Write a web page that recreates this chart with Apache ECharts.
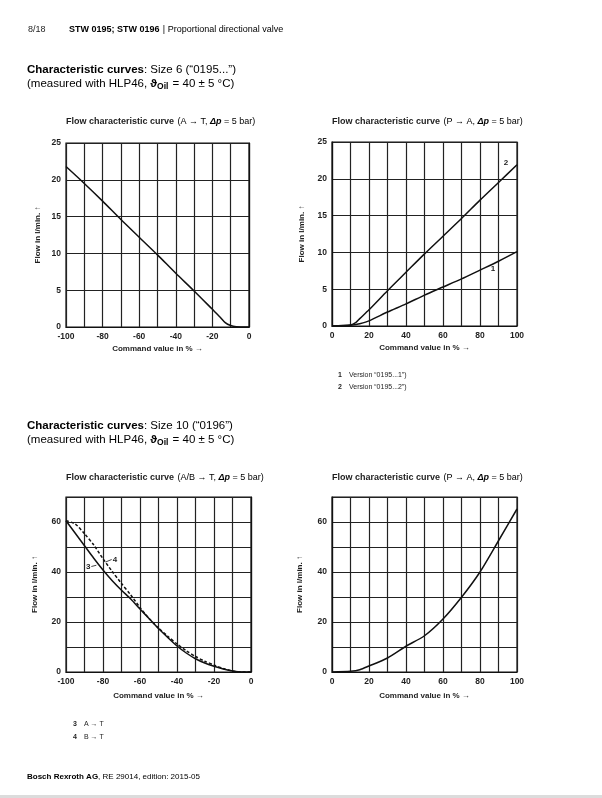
<!DOCTYPE html>
<html><head><meta charset="utf-8">
<script src="https://cdn.jsdelivr.net/npm/echarts@6/dist/echarts.min.js"></script>
<style>html,body{margin:0;padding:0;background:#fff}#c{width:602px;height:798px}</style>
</head><body><div id="c"></div>
<script>
// ---- data ----
const cmdAT6 = [-100,-90,-80,-70,-60,-50,-40,-30,-20,-16,-13,-10,-7,0];
const flowAT6 = [21.8,19.5,17.1,14.6,12.2,9.8,7.3,4.9,2.4,1.4,0.6,0.2,0.05,0];

const cmdPA6 = [0,10,13,15,20,30,40,50,60,70,80,90,100];
const flowV1 = [0,0.1,0.2,0.3,0.7,1.9,3.0,4.2,5.3,6.4,7.6,8.8,10.1];
const flowV2 = [0,0.15,0.5,1.0,2.2,4.8,7.3,9.8,12.2,14.6,17.1,19.5,21.9];

const cmdAB10 = [-100,-95,-90,-85,-80,-75,-70,-65,-60,-55,-50,-45,-40,-35,-30,-25,-20,-15,-10,-7,0];
const flowAT10 = [60.5,55.5,50.5,45.5,40.8,36.5,32.7,29.2,25.2,21.3,17.4,13.8,10.4,7.6,5.3,3.6,2.3,1.2,0.4,0.1,0];
const flowBT10 = [60.5,59.2,55.3,50.8,45.3,40.2,35.4,30.8,25.8,21.3,17.6,14.3,11.2,8.5,6.2,4.3,2.8,1.4,0.4,0.1,0];

const cmdPA10 = [0,10,15,20,30,40,50,60,70,80,90,100];
const flowPA10 = [0,0.3,0.9,2.4,5.6,10.3,14.5,21.2,29.9,40,52.5,65.2];

const xTickStep = 10, xLabelStep = 20;
const y6Max = 25, y6Step = 5;
const y10Max = 70, y10Step = 10, y10LabelStep = 20;

const curveLabels6 = [{name:'1', x:87, y:7.8}, {name:'2', x:94, y:22.2}];
const curveLabels10 = [{name:'3', x:-88, y:42.2}, {name:'4', x:-73.5, y:45}];
const leader3 = [[-86.3, 42.2], [-83.6, 42.7]];
const leader4 = [[-78.6, 44], [-75.3, 45]];

// ---- chart ----
const FF = '"Liberation Sans", Arial, sans-serif';
const TXT = '#1e1e1e';
const pair = (xs, ys) => xs.map((x, i) => [x, ys[i]]);

function xAx(gi, min, max, gap) {
  return {
    type: 'value', gridIndex: gi, min: min, max: max, interval: xTickStep,
    axisLine: {show: true, onZero: false, lineStyle: {color: '#111', width: 1.2}},
    axisTick: {show: false},
    splitLine: {show: true, lineStyle: {color: '#222', width: 1.2}},
    axisLabel: {formatter: v => (v % xLabelStep === 0 ? String(v) : ''), fontSize: 8.5, fontWeight: 'bold', color: TXT, margin: 5, fontFamily: FF},
    name: 'Command value in % →', nameLocation: 'middle', nameGap: gap,
    nameTextStyle: {fontSize: 8, fontWeight: 'bold', color: TXT, fontFamily: FF}
  };
}
function yAx(gi, max, step, labelStep, gap) {
  return {
    type: 'value', gridIndex: gi, min: 0, max: max, interval: step,
    axisLine: {show: true, lineStyle: {color: '#111', width: 1.2}},
    axisTick: {show: false},
    splitLine: {show: true, lineStyle: {color: '#222', width: 1.2}},
    axisLabel: {formatter: v => (v % labelStep === 0 && v < max ? String(v) : (v === max && labelStep === step ? String(v) : '')), fontSize: 8.5, fontWeight: 'bold', color: TXT, margin: 5, fontFamily: FF},
    name: 'Flow in l/min. ↑', nameLocation: 'middle', nameGap: gap, nameRotate: 90,
    nameTextStyle: {fontSize: 8, fontWeight: 'bold', color: TXT, fontFamily: FF}
  };
}
const gridStyle = {show: true, borderColor: '#111', borderWidth: 1.2, containLabel: false};
const lineS = (xi, data, dashed) => ({
  type: 'line', xAxisIndex: xi, yAxisIndex: xi, data: data, symbol: 'none', smooth: 0.25,
  lineStyle: {color: '#111', width: 1.5, type: dashed ? [3, 2] : 'solid'}, silent: true, animation: false
});
const markLabels = (arr) => ({
  symbol: 'circle', symbolSize: 0, silent: true, animation: false,
  label: {show: true, position: 'inside', formatter: p => p.name, fontSize: 8, fontWeight: 'bold', color: TXT, fontFamily: FF},
  data: arr.map(o => ({name: o.name, coord: [o.x, o.y]}))
});
const leaderLines = (ls) => ({
  symbol: 'none', silent: true, animation: false, label: {show: false},
  lineStyle: {color: '#111', width: 0.8, type: 'solid'},
  data: ls.map(l => [{coord: l[0]}, {coord: l[1]}])
});

const s1 = lineS(0, pair(cmdAT6, flowAT6));
const s2a = lineS(1, pair(cmdPA6, flowV1));
const s2b = lineS(1, pair(cmdPA6, flowV2));
s2b.markPoint = markLabels(curveLabels6);
const s3a = lineS(2, pair(cmdAB10, flowAT10));
const s3b = lineS(2, pair(cmdAB10, flowBT10), true);
s3a.markPoint = markLabels(curveLabels10);
s3a.markLine = leaderLines([leader3, leader4]);
const s4 = lineS(3, pair(cmdPA10, flowPA10));

function T(x, y, text, size, weight, extra) {
  return Object.assign({type: 'text', x: x, y: y, silent: true, style: Object.assign({
    text: text, fontSize: size, fontWeight: weight || 'normal', fontFamily: FF, fill: TXT, verticalAlign: 'middle', align: 'left'
  }, extra || {})}, {});
}
const richTitle = (arrow) => ({
  text: '{b|Flow characteristic curve} {n|(' + arrow + ', }{bi|Δp}{n| = 5 bar)}',
  rich: {
    b: {fontSize: 9, fontWeight: 'bold', fontFamily: FF, fill: TXT, color: TXT},
    n: {fontSize: 9, fontFamily: FF, color: TXT},
    bi: {fontSize: 9, fontWeight: 'bold', fontStyle: 'italic', fontFamily: FF, color: TXT}
  }
});
const richHead = (size) => ({
  text: '{b|Characteristic curves}{n|: ' + size + '}',
  rich: {b: {fontSize: 11.5, fontWeight: 'bold', fontFamily: FF, color: TXT}, n: {fontSize: 11.5, fontFamily: FF, color: TXT}}
});
const richMeas = {
  text: '{n|(measured with HLP46, }{th|ϑ}{sub|Oil}{n| = 40 ± 5 °C)}',
  rich: {
    n: {fontSize: 11.5, fontFamily: FF, color: TXT, height: 14},
    th: {fontSize: 11.5, fontWeight: 'bold', fontFamily: FF, color: TXT, height: 14},
    sub: {fontSize: 8.5, fontWeight: 'bold', fontFamily: FF, color: TXT, padding: [6, 1, 0, 0], height: 14}
  }
};

const graphics = [
  T(28, 30, '8/18', 9),
  {type: 'text', x: 69, y: 30, silent: true, style: {
    text: '{b|STW 0195; STW 0196} {n|| Proportional directional valve}',
    rich: {b: {fontSize: 9, fontWeight: 'bold', fontFamily: FF, color: TXT}, n: {fontSize: 9, fontFamily: FF, color: TXT}},
    verticalAlign: 'middle', align: 'left'}},
  {type: 'text', x: 27, y: 70, silent: true, style: Object.assign(richHead('Size 6 (“0195...”)'), {verticalAlign: 'middle', align: 'left'})},
  {type: 'text', x: 27, y: 83.5, silent: true, style: Object.assign({}, richMeas, {verticalAlign: 'middle', align: 'left'})},
  {type: 'text', x: 66, y: 122, silent: true, style: Object.assign(richTitle('A → T'), {verticalAlign: 'middle', align: 'left'})},
  {type: 'text', x: 332, y: 122, silent: true, style: Object.assign(richTitle('P → A'), {verticalAlign: 'middle', align: 'left'})},
  T(338, 375, '1', 7, 'bold'), T(349, 375, 'Version “0195...1”)', 7),
  T(338, 387, '2', 7, 'bold'), T(349, 387, 'Version “0195...2”)', 7),
  {type: 'text', x: 27, y: 426, silent: true, style: Object.assign(richHead('Size 10 (“0196”)'), {verticalAlign: 'middle', align: 'left'})},
  {type: 'text', x: 27, y: 439.5, silent: true, style: Object.assign({}, richMeas, {verticalAlign: 'middle', align: 'left'})},
  {type: 'text', x: 66, y: 478, silent: true, style: Object.assign(richTitle('A/B → T'), {verticalAlign: 'middle', align: 'left'})},
  {type: 'text', x: 332, y: 478, silent: true, style: Object.assign(richTitle('P → A'), {verticalAlign: 'middle', align: 'left'})},
  T(73, 724, '3', 7, 'bold'), T(84, 724, 'A → T', 7),
  T(73, 737, '4', 7, 'bold'), T(84, 737, 'B → T', 7),
  {type: 'text', x: 27, y: 777, silent: true, style: {
    text: '{b|Bosch Rexroth AG}{n|, RE 29014, edition: 2015-05}',
    rich: {b: {fontSize: 8, fontWeight: 'bold', fontFamily: FF, color: TXT}, n: {fontSize: 8, fontFamily: FF, color: TXT}},
    verticalAlign: 'middle', align: 'left'}},
  {type: 'rect', shape: {x: 0, y: 795, width: 602, height: 3}, style: {fill: '#dcdcdc'}, silent: true}
];

const chart = echarts.init(document.getElementById('c'), null, {renderer: 'canvas'});
chart.setOption({
  animation: false,
  backgroundColor: '#fff',
  grid: [
    Object.assign({left: 66, top: 143, width: 183, height: 184}, gridStyle),
    Object.assign({left: 332, top: 142, width: 185, height: 184}, gridStyle),
    Object.assign({left: 66, top: 497, width: 185, height: 175}, gridStyle),
    Object.assign({left: 332, top: 497, width: 185, height: 175}, gridStyle)
  ],
  xAxis: [xAx(0, -100, 0, 18), xAx(1, 0, 100, 18), xAx(2, -100, 0, 20), xAx(3, 0, 100, 20)],
  yAxis: [yAx(0, y6Max, y6Step, y6Step, 24), yAx(1, y6Max, y6Step, y6Step, 26), yAx(2, y10Max, y10Step, y10LabelStep, 27), yAx(3, y10Max, y10Step, y10LabelStep, 28)],
  series: [s1, s2a, s2b, s3a, s3b, s4],
  graphic: graphics
});
</script></body></html>
